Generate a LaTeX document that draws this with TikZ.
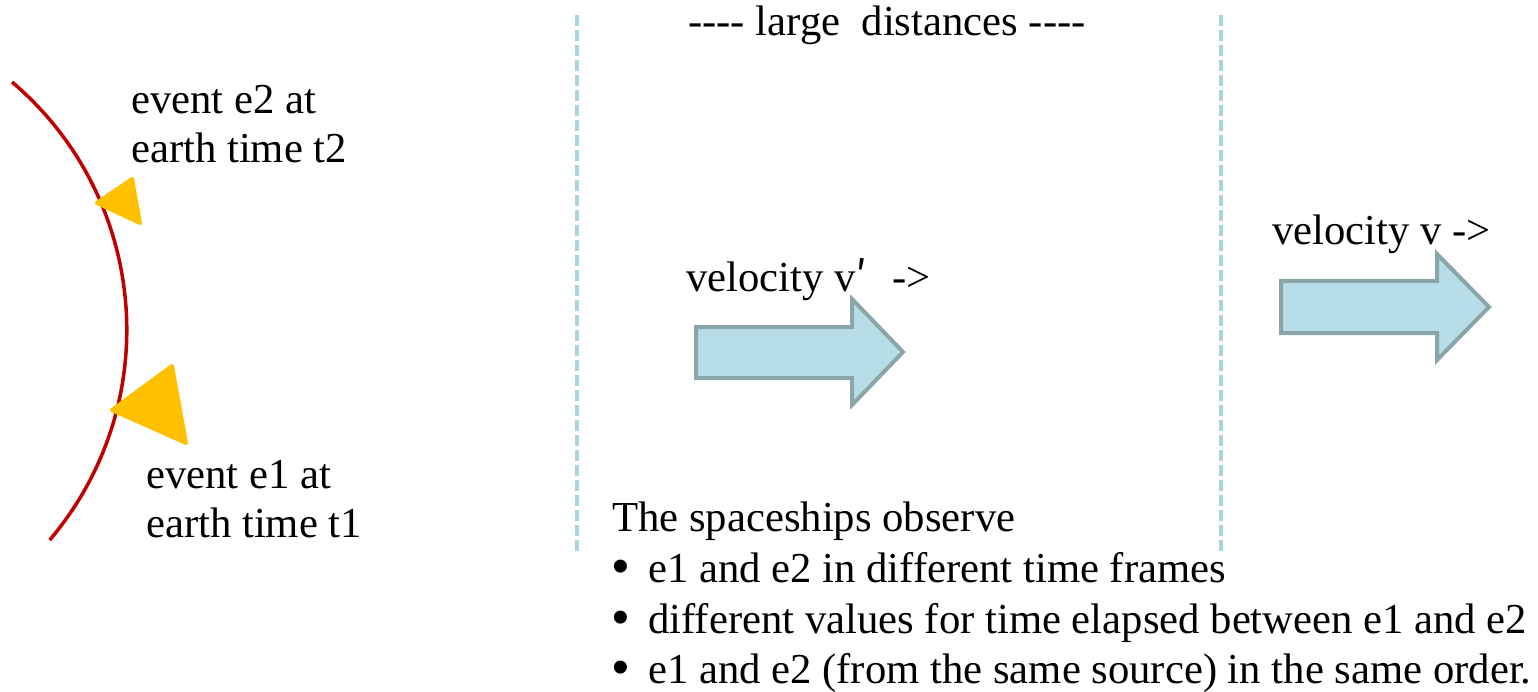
\documentclass[tikz,border=0pt]{standalone}
\usepackage{fontspec}
\setmainfont{Liberation Serif}
\newfontfamily\primefont{Noto Sans CJK JP}
\newfontfamily\bulletfont{Liberation Sans}
\definecolor{arcred}{HTML}{C00000}
\definecolor{tri}{HTML}{FFC000}
\definecolor{arrfill}{HTML}{B7DEE8}
\definecolor{arrline}{HTML}{8AA6A8}
\definecolor{dashc}{HTML}{A9D6DC}
\newcommand{\bul}{\makebox[36pt][l]{\bulletfont\fontsize{48}{51}\selectfont •}}
\begin{document}
\begin{tikzpicture}[x=1pt,y=-1pt,
  lbl/.style={inner sep=0pt,anchor=base west,font=\fontsize{42.7}{51}\selectfont},
  tribox/.style={fill=tri,draw=tri,line width=4pt,line join=round},
  blockarr/.style={fill=arrfill,draw=arrline,line width=4pt,line join=miter},
  divider/.style={draw=dashc,line width=3.5pt,dash pattern=on 11pt off 4pt}]
\useasboundingbox (0,0) rectangle (1538,692);
% earth arc
\coordinate (arcS) at (12,82);
\draw[arcred,line width=3.5pt] (arcS) arc[start angle=-49.7,end angle=40.3,radius=325] coordinate (arcE);
% triangles
\filldraw[tribox] (97,203) -- (132,179) -- (140,223) -- cycle;
\filldraw[tribox] (112,410) -- (172,366) -- (186,443) -- cycle;
% dividers
\coordinate (d1t) at (577,15); \coordinate (d1b) at (577,555);
\coordinate (d2t) at (1221,15); \coordinate (d2b) at (1221,555);
\draw[divider] (d1t) -- (d1b);
\draw[divider] (d2t) -- (d2b);
% block arrows
\filldraw[blockarr] (696,327) -- (852,327) -- (852,299) -- (903,352) -- (852,405) -- (852,378) -- (696,378) -- cycle;
\filldraw[blockarr] (1281,281) -- (1437,281) -- (1437,254) -- (1489,307) -- (1437,360) -- (1437,333) -- (1281,333) -- cycle;
% labels
\node[lbl] (e2a) at (131,114) {event e2 at};
\node[lbl] (e2b) at (131,163) {earth time t2};
\node[lbl] (e1a) at (146,488) {event e1 at};
\node[lbl] (e1b) at (146,537) {earth time t1};
\node[lbl] (ld) at (688,36) {-{}-{}-{}- large\ \ distances -{}-{}-{}-};
\node[lbl] (v1) at (686,292) {velocity v{\primefont ′}\hspace{14pt} ->};
\node[lbl] (v2) at (1272,245) {velocity v ->};
\node[lbl] (obs) at (612,531) {The spaceships observe};
\node[lbl] (b1) at (612,582) {\bul e1 and e2 in different time frames};
\node[lbl] (b2) at (612,633) {\bul different values for time elapsed between e1 and e2};
\node[lbl] (b3) at (612,683) {\bul e1 and e2 (from the same source) in the same order.};
\end{tikzpicture}
\end{document}
